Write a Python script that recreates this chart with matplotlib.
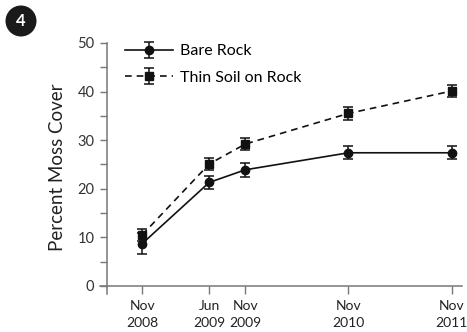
#!/usr/bin/env python3
"""Moss cover over time on bare rock vs thin soil (panel 4)."""

import matplotlib
matplotlib.use("Agg")
import matplotlib.pyplot as plt

# months since Nov 2008
months = [0, 7.8, 12, 24, 36]
tick_labels = ["Nov\n2008", "Jun\n2009", "Nov\n2009", "Nov\n2010", "Nov\n2011"]

bare_rock = [8.7, 21.3, 23.9, 27.4, 27.4]
bare_rock_err = [2.1, 1.3, 1.4, 1.35, 1.3]
thin_soil = [10.5, 25.1, 29.2, 35.5, 40.1]
thin_soil_err = [1.2, 1.3, 1.3, 1.3, 1.3]

plt.rcParams["font.family"] = ["Lato", "DejaVu Sans"]

W, H = 467, 332
fig = plt.figure(figsize=(W / 100, H / 100), dpi=100)
ax = fig.add_axes([100 / W, (H - 294) / H, 362 / W, (294 - 40) / H])

grey = "#777777"
ax.errorbar(months, bare_rock, yerr=bare_rock_err, color="#111111",
            lw=1.2, marker="o", ms=6, capsize=3.5, elinewidth=1.1,
            capthick=1.1, clip_on=False, label="Bare Rock")
ax.errorbar(months, thin_soil, yerr=thin_soil_err, color="#111111",
            lw=1.2, ls=(0, (4, 3)), marker="s", ms=6, capsize=3.5,
            elinewidth=1.1, capthick=1.1, clip_on=False,
            label="Thin Soil on Rock")

x0 = -4.1
ax.set_xlim(-4.9, 37.2)
ax.set_ylim(-1.65, 50.6)
for side in ("top", "right"):
    ax.spines[side].set_visible(False)
ax.spines["left"].set_position(("data", x0))
ax.spines["left"].set_bounds(-1.65, 50)
ax.spines["bottom"].set_position(("data", 0))
ax.spines["bottom"].set_bounds(-4.9, 37.2)
for s in ("left", "bottom"):
    ax.spines[s].set_color(grey)
    ax.spines[s].set_linewidth(1.1)

ax.set_yticks(range(0, 51, 10))
ax.set_yticks(range(5, 50, 10), minor=True)
ax.set_xticks(months)
ax.set_xticklabels(tick_labels, fontsize=10, color="#222222",
                   linespacing=1.5)
ax.tick_params(axis="y", which="both", length=5, width=1, color=grey,
               labelsize=10.5, labelcolor="#333333", pad=4)
ax.tick_params(axis="x", length=6, width=1, color=grey, pad=4)
ax.set_ylabel("Percent Moss Cover", fontsize=13.5, color="#222222",
              labelpad=8)

leg = ax.legend(loc="upper left", bbox_to_anchor=(0.03, 1.04),
                frameon=False, fontsize=11.5, handlelength=3.0,
                handletextpad=0.4, labelspacing=0.75)
for line in leg.get_lines():
    line.set_linewidth(2.0)

# panel badge
fig.text(21 / W, 1 - 21 / H, "4", color="white", fontsize=12,
         fontweight="bold", ha="center", va="center",
         bbox=dict(boxstyle="circle,pad=0.45", facecolor="#1a1a1a",
                   edgecolor="none"))

fig.savefig("out.png", dpi=100)
